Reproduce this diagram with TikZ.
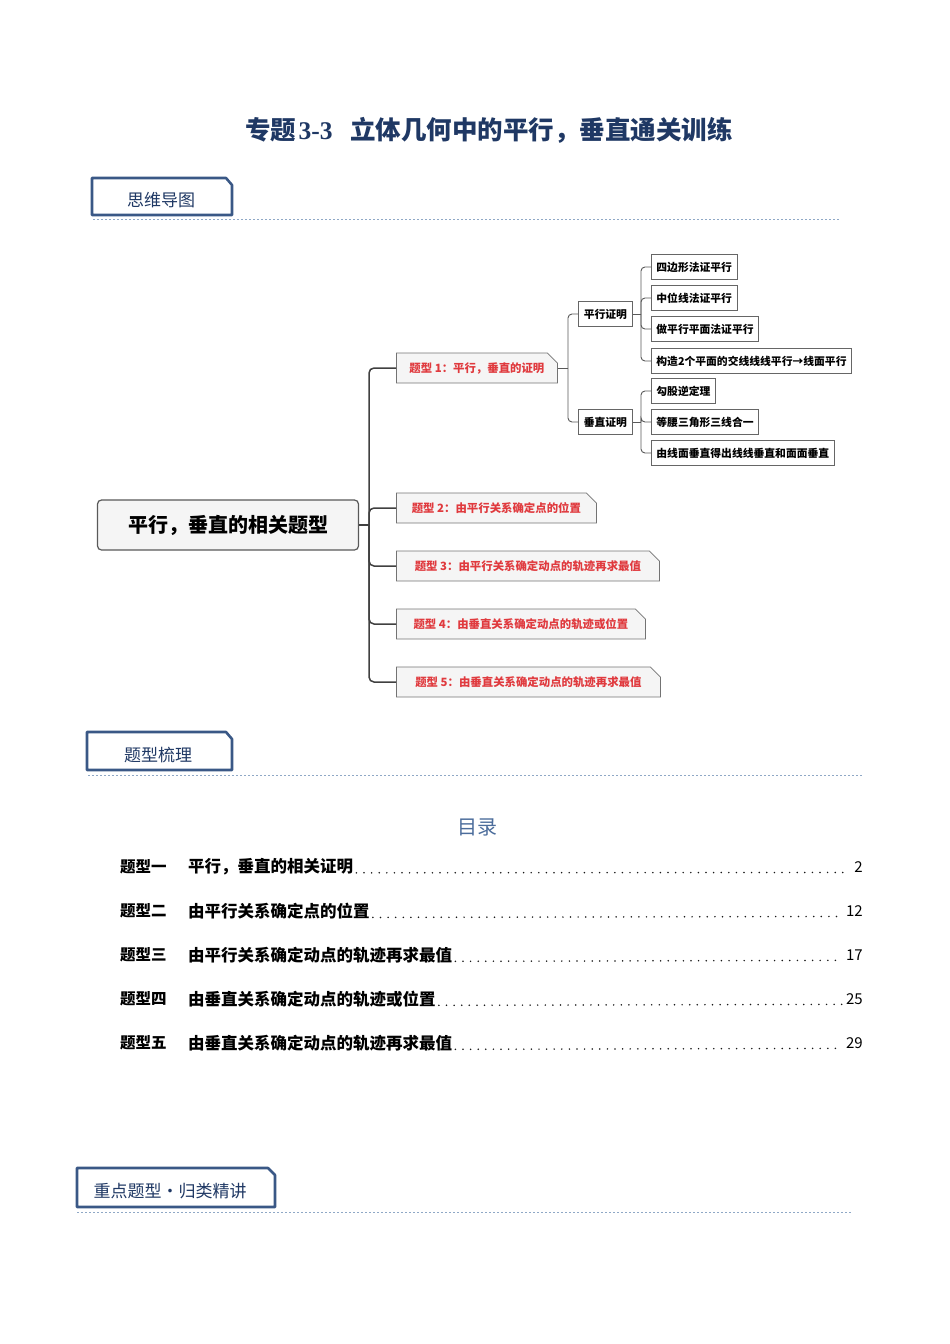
\documentclass[tikz,border=0pt]{standalone}
\usepackage{fontspec}
\usepackage{tikz}
\usetikzlibrary{shapes.misc,positioning}
\setmainfont{Noto Sans CJK SC}
\newfontfamily\serifnum{Liberation Serif}
\definecolor{navy}{HTML}{1F3864}
\definecolor{tabblue}{HTML}{3A5886}
\definecolor{sepblue}{HTML}{8FA8C6}
\definecolor{mulu}{HTML}{4B6C9B}
\definecolor{redtext}{HTML}{E03A3E}

\begin{document}
\begin{tikzpicture}[
            x=1pt,   % 1单位 = 1像素
            y=-1pt,  % y轴向下
            tabframe/.style={draw=tabblue, line width=2.6, fill=white, line join=round},
            tabtext/.style={text=navy, font=\fontsize{17}{20}\selectfont},
            sepline/.style={draw=sepblue, line width=0.9, dash pattern=on 2.4 off 1.6},
            rootbox/.style={draw=black!65, fill=black!4, line width=1.2, rounded corners=4,
                minimum width=261, minimum height=50, font=\fontsize{20}{24}\selectfont\bfseries},
            typebox/.style={chamfered rectangle, chamfered rectangle corners=north east,
                chamfered rectangle xsep=5, chamfered rectangle ysep=5,
                draw=black!55, fill=black!4, line width=0.8, minimum height=30,
                inner xsep=7, text=redtext, anchor=west,
                font=\fontsize{11.4}{14}\selectfont\bfseries},
            subbox/.style={draw=black!60, fill=white, line width=0.8, minimum height=25,
                inner xsep=5, anchor=west, font=\fontsize{10.8}{13}\selectfont\bfseries},
            trunk/.style={draw=black!75, line width=1.5, rounded corners=5},
            twig/.style={draw=black!65, line width=0.9, rounded corners=4},
            leader/.style={draw=black!90, line width=1.7, line cap=round, dash pattern=on 0 off 7.6}
        ]
            \useasboundingbox (0,0) rectangle (950,1344);

            % 标题
            \node[text=navy, font=\fontsize{25.5}{30}\selectfont\bfseries] (title) at (489,130)
                {专题\hspace{0.1em}{\serifnum 3-3}\hspace{0.7em}立体几何中的平行，垂直通关训练};

            % 思维导图
            \draw[tabframe] (92,178) -- (226,178) -- (232,185) -- (232,215) -- (92,215) -- cycle;
            \node[tabtext] (tab1) at (161,200) {思维导图};
            \draw[sepline] (93,219) -- (840,219);

            % 中心主题
            \node[rootbox] (root) at (228,525) {平行，垂直的相关题型};

            % 题型
            \node[typebox, minimum width=161] (t1) at (396,368) {题型 1：平行，垂直的证明};
            \node[typebox, minimum width=200] (t2) at (396,508) {题型 2：由平行关系确定点的位置};
            \node[typebox, minimum width=263] (t3) at (396,566) {题型 3：由平行关系确定动点的轨迹再求最值};
            \node[typebox, minimum width=249] (t4) at (396,624) {题型 4：由垂直关系确定动点的轨迹或位置};
            \node[typebox, minimum width=264] (t5) at (396,682) {题型 5：由垂直关系确定动点的轨迹再求最值};

            \coordinate (j0) at (369,525);
            \draw[trunk] (root.east) -- (j0);
            \foreach \t in {t1,t2,t3,t4,t5}
                \draw[trunk] (j0) |- (\t.west);

            % 证明分类
            \node[subbox, minimum width=54] (pa) at (578,314) {平行证明};
            \node[subbox, minimum width=54] (pe) at (578,422) {垂直证明};
            \coordinate (j1) at (568,368);
            \draw[twig] (t1.east) -- (j1);
            \draw[twig] (j1) |- (pa.west);
            \draw[twig] (j1) |- (pe.west);

            % 平行证明
            \node[subbox] (s1) at (651,267) {四边形法证平行};
            \node[subbox] (s2) at (651,298) {中位线法证平行};
            \node[subbox] (s3) at (651,329) {做平行平面法证平行};
            \node[subbox] (s4) at (651,361) {构造2个平面的交线线线平行→线面平行};
            \coordinate (j2) at (641,314);
            \draw[twig] (pa.east) -- (j2);
            \foreach \s in {s1,s2,s3,s4}
                \draw[twig] (j2) |- (\s.west);

            % 垂直证明
            \node[subbox] (v1) at (651,391) {勾股逆定理};
            \node[subbox] (v2) at (651,422) {等腰三角形三线合一};
            \node[subbox] (v3) at (651,453) {由线面垂直得出线线垂直和面面垂直};
            \coordinate (j3) at (641,422);
            \draw[twig] (pe.east) -- (j3);
            \foreach \v in {v1,v2,v3}
                \draw[twig] (j3) |- (\v.west);

            % 题型梳理
            \draw[tabframe] (87,732) -- (226,732) -- (232,739) -- (232,770) -- (87,770) -- cycle;
            \node[tabtext] (tab2) at (158,755) {题型梳理};
            \draw[sepline] (88,775) -- (862,775);

            % 目录
            \node[text=mulu, font=\fontsize{20}{24}\selectfont] (toc) at (477,827) {目录};
            \foreach \i/\lab/\txt/\pg/\yy in {
                1/题型一/平行，垂直的相关证明/2/867,
                2/题型二/由平行关系确定点的位置/12/911,
                3/题型三/由平行关系确定动点的轨迹再求最值/17/955,
                4/题型四/由垂直关系确定动点的轨迹或位置/25/999,
                5/题型五/由垂直关系确定动点的轨迹再求最值/29/1043}
            {
                \node[anchor=west, inner sep=0, font=\fontsize{15.5}{18}\selectfont\bfseries] (lab\i) at (120,\yy) {\lab};
                \node[anchor=west, inner sep=0, font=\fontsize{16.5}{18}\selectfont\bfseries] (ti\i) at (188,\yy) {\txt};
                \node[anchor=east, inner sep=0, font=\fontsize{15}{18}\selectfont] (pg\i) at (863,\yy) {\pg};
                \draw[leader] ([xshift=3]ti\i.base east) -- ([xshift=-4]pg\i.base west);
            }

            % 重点题型
            \draw[tabframe] (77,1168) -- (268,1168) -- (275,1175) -- (275,1207) -- (77,1207) -- cycle;
            \node[tabtext] (tab3) at (170,1191) {重点题型·归类精讲};
            \draw[sepline] (77,1212) -- (852,1212);
        \end{tikzpicture}
\end{document}
